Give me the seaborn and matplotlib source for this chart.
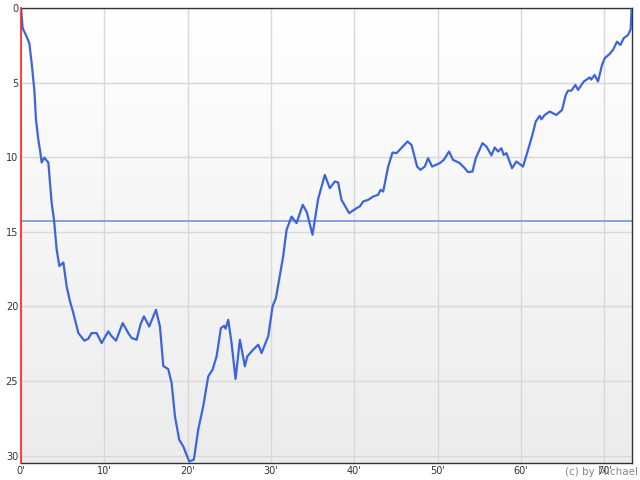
import numpy as np
import pandas as pd
import matplotlib
matplotlib.use("Agg")
import matplotlib.pyplot as plt
import seaborn as sns

# Time (minutes) and value
minutes = [0.0, 0.2, 0.68, 1.0, 1.28, 1.6, 1.8, 2.08, 2.3, 2.48, 2.8, 3.28, 3.68, 3.96,
           4.28, 4.6, 5.08, 5.48, 5.88, 6.28, 6.88, 7.6, 8.07, 8.47, 9.07, 9.67, 10.47,
           10.87, 11.4, 12.2, 12.87, 13.27, 13.87, 14.35, 14.75, 15.38, 16.19, 16.67,
           17.07, 17.66, 18.07, 18.47, 18.98, 19.46, 20.18, 20.74, 21.26, 21.86, 22.46,
           22.98, 23.46, 23.98, 24.38, 24.55, 24.86, 25.26, 25.74, 26.26, 26.86, 27.14,
           27.86, 28.46, 28.86, 29.66, 30.18, 30.58, 31.45, 31.86, 32.46, 33.06, 33.8,
           34.3, 34.97, 35.65, 36.45, 37.05, 37.65, 38.05, 38.45, 39.37, 40.25, 40.65,
           41.05, 41.65, 42.25, 42.85, 43.13, 43.45, 44.05, 44.57, 45.05, 46.37, 46.85,
           47.52, 47.92, 48.44, 48.84, 49.32, 50.24, 50.72, 51.35, 51.83, 52.64, 53.24,
           53.63, 54.16, 54.56, 55.36, 55.84, 56.44, 56.83, 57.23, 57.63, 57.91, 58.24,
           58.91, 59.43, 60.23, 60.83, 61.35, 61.75, 62.23, 62.43, 62.83, 63.43, 63.83,
           64.23, 64.91, 65.35, 65.63, 66.03, 66.51, 66.83, 67.51, 67.91, 68.23, 68.4,
           68.82, 69.22, 69.7, 70.02, 70.62, 71.02, 71.5, 71.91, 72.3, 72.82, 73.14, 73.25]
values = [0.0, 1.36, 1.92, 2.37, 3.7, 5.5, 7.5, 8.84, 9.6, 10.36, 10.03, 10.36, 13.08, 14.2,
          16.2, 17.3, 17.06, 18.67, 19.67, 20.45, 21.79, 22.3, 22.17, 21.79, 21.79, 22.46,
          21.68, 22.0, 22.3, 21.12, 21.79, 22.12, 22.24, 21.19, 20.67, 21.35, 20.23, 21.35,
          24.0, 24.2, 25.14, 27.37, 28.94, 29.38, 30.4, 30.27, 28.27, 26.7, 24.7, 24.25,
          23.36, 21.46, 21.3, 21.5, 20.9, 22.46, 24.87, 22.24, 24.02, 23.36, 22.9, 22.57,
          23.13, 22.0, 20.0, 19.45, 16.66, 14.87, 13.98, 14.42, 13.19, 13.7, 15.2, 12.8,
          11.19, 12.08, 11.63, 11.7, 12.86, 13.75, 13.42, 13.3, 12.97, 12.86, 12.64, 12.52,
          12.19, 12.3, 10.63, 9.69, 9.73, 8.95, 9.18, 10.63, 10.85, 10.63, 10.07, 10.63,
          10.4, 10.18, 9.62, 10.18, 10.4, 10.74, 11.0, 10.96, 10.07, 9.06, 9.29, 9.88, 9.35,
          9.62, 9.4, 9.85, 9.73, 10.74, 10.29, 10.63, 9.51, 8.51, 7.61, 7.23, 7.46, 7.17,
          6.94, 7.06, 7.17, 6.83, 5.83, 5.54, 5.54, 5.16, 5.49, 4.93, 4.78, 4.65, 4.8, 4.49,
          4.93, 3.82, 3.37, 3.08, 2.81, 2.26, 2.48, 2.03, 1.81, 1.43, 0.1]
ref_level = 14.31
x_ticks = [0, 10, 20, 30, 40, 50, 60, 70]
y_ticks = [0, 5, 10, 15, 20, 25, 30]

df = pd.DataFrame({"minute": minutes, "value": values})

sns.set_style("white")
plt.rcParams["font.family"] = ["DejaVu Sans"]

fig = plt.figure(figsize=(6.4, 4.8), dpi=100)
ax = fig.add_axes([21 / 640, 1 - 463 / 480, 611 / 640, 455 / 480])

# gradient background, white at the top to light grey at the bottom
grad = np.linspace(0, 1, 256).reshape(-1, 1)
cmap = matplotlib.colors.LinearSegmentedColormap.from_list("bg", ["#ffffff", "#ececec"])
ax.imshow(grad, cmap=cmap, aspect="auto", extent=[0, 73.3, 30.5, 0],
          origin="upper", zorder=0)

sns.lineplot(data=df, x="minute", y="value", ax=ax, color="#3c64dc",
             linewidth=1.6, zorder=3, solid_joinstyle="round", solid_capstyle="round")
ax.axhline(ref_level, color="#7d9ae6", linewidth=1.3, zorder=2)

ax.set_xlim(0, 73.3)
ax.set_ylim(30.5, 0)
ax.set_xticks(x_ticks)
ax.set_xticklabels([f"{t}'" for t in x_ticks])
ax.set_yticks(y_ticks)
ax.grid(True, color="#d8d8d8", linewidth=1.0, zorder=1)
ax.set_axisbelow(True)
ax.set_xlabel("")
ax.set_ylabel("")
ax.tick_params(axis="both", length=0, labelsize=7, colors="#333333", pad=2)

for side in ["top", "right", "bottom"]:
    ax.spines[side].set_color("#333333")
    ax.spines[side].set_linewidth(1.0)
ax.spines["left"].set_color("#ff2020")
ax.spines["left"].set_linewidth(1.2)
ax.spines["left"].set_zorder(4)

# watermark sits over the last tick label, as in the original
fig.text(0.997, 0.006, "(c) by Michael", ha="right", va="bottom",
         fontsize=7.5, color="#888888")

fig.savefig("out.png", dpi=100)
